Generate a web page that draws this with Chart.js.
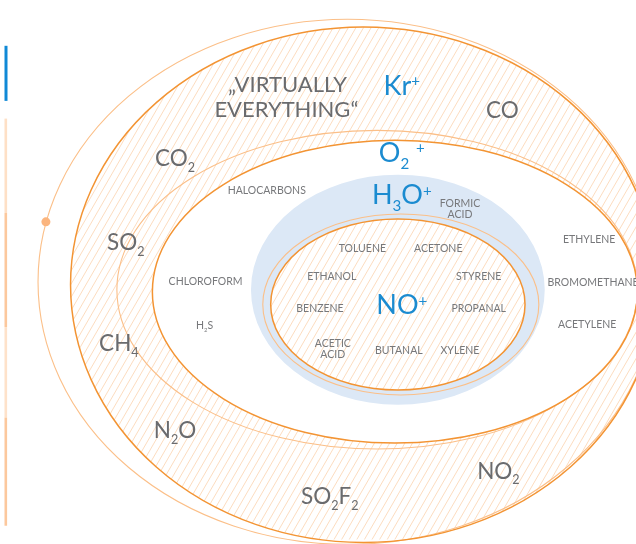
<!DOCTYPE html>
<html>
<head>
<meta charset="utf-8">
<script src="https://cdn.jsdelivr.net/npm/chart.js@4.4.1/dist/chart.umd.min.js"></script>
<style>
  html, body { margin: 0; padding: 0; background: #fff; }
  canvas { display: block; }
</style>
</head>
<body>
<canvas id="myChart" width="636" height="544"></canvas>
<script>
// ellipse outlines, in picture units (x to the right, y downwards)
const ringNames = ['outer halo', 'all gases', 'voc halo', 'voc zone', 'no halo', 'no zone'];
const ringCx = [348, 364, 378, 396, 402, 399];
const ringCy = [282, 285, 290, 292, 305, 305];
const ringRx = [314, 297, 264, 246, 140, 129];
const ringRy = [267, 262, 162, 154, 92, 87];

// the blue H3O+ area
const blueCx = [399];
const blueCy = [290];
const blueRx = [149];
const blueRy = [117];

// little marker dot on the outer halo
const markerX = [42];
const markerY = [221];

// strips on the left edge (top / bottom)
const stripTop = [42, 116, 212, 328, 420];
const stripBottom = [98, 212, 328, 420, 530];

// text: "_" = subscript next char, "^" = superscript next char
const headline = ['\u201EVIRTUALLY', 'EVERYTHING\u201C'];
const headlineX = [287, 286];
const headlineY = [89, 114];

const gasLabels = ['CO', 'CO_2', 'SO_2', 'CH_4', 'N_2O', 'SO_2F_2', 'NO_2'];
const gasX = [505, 173, 123, 116, 173, 330, 501];
const gasY = [115, 164, 250, 352, 441, 508, 482];

const ionLabels = ['Kr^+', 'O_2 ^+', 'H_3O^+', 'NO^+'];
const ionX = [403, 403, 403, 403];
const ionY = [92, 160, 203, 315];

const compoundLabels = ['HALOCARBONS', 'FORMIC\nACID', 'ETHYLENE', 'TOLUENE', 'ACETONE',
  'CHLOROFORM', 'H_2S', 'ETHANOL', 'STYRENE', 'BENZENE', 'PROPANAL',
  'ACETIC\nACID', 'BUTANAL', 'XYLENE', 'BROMOMETHANE', 'ACETYLENE'];
const compoundX = [266, 462, 593, 363, 440, 204, 203, 332, 481, 320, 481, 333, 400, 462, 597, 591];
const compoundY = [193, 206, 243, 252, 252, 285, 330, 280, 280, 313, 313, 348, 355, 355, 286, 329];

const ORANGE = '#f39433';
const ORANGE_LIGHT = '#fbbf88';
const HATCH = '#fcd8b8';
const BLUE_FILL = '#dce8f6';
const TEXT_GREY = '#6a6b6e';
const TEXT_BLUE = '#1b8bd0';
const FONT = 'Lato, "Open Sans", sans-serif';

const heavyRings = ['all gases', 'voc zone', 'no zone'];
const stripColours = ['#1089d6', '#fee0c6', '#fcc89d', '#fee2ca', '#fcc89d'];

function drawRich(ctx, str, cx, baseY, size, weight, colour) {
  const runs = [];
  for (let i = 0; i < str.length; i++) {
    const c = str[i];
    if ((c === '_' || c === '^') && i + 1 < str.length) {
      runs.push({ t: str[i + 1], k: c });
      i++;
    } else if (runs.length && runs[runs.length - 1].k === '') {
      runs[runs.length - 1].t += c;
    } else {
      runs.push({ t: c, k: '' });
    }
  }
  let total = 0;
  runs.forEach(r => {
    r.s = r.k ? size * 0.56 : size;
    ctx.font = `${weight} ${r.s}px ${FONT}`;
    r.w = ctx.measureText(r.t).width;
    total += r.w;
  });
  let x = cx - total / 2;
  ctx.fillStyle = colour;
  ctx.textAlign = 'left';
  ctx.textBaseline = 'alphabetic';
  runs.forEach(r => {
    ctx.font = `${weight} ${r.s}px ${FONT}`;
    let y = baseY;
    if (r.k === '_') y += size * 0.26;
    if (r.k === '^') y -= size * 0.32;
    ctx.fillText(r.t, x, y);
    x += r.w;
  });
}

const diagramPlugin = {
  id: 'diagram',
  beforeDatasetsDraw(chart) {
    const { ctx, chartArea, scales: { x, y } } = chart;
    const px = v => x.getPixelForValue(v);
    const py = v => y.getPixelForValue(v);

    function ellipsePath(cx, cy, rx, ry) {
      const X = px(cx), Y = py(cy);
      const RX = Math.abs(px(cx + rx) - X), RY = Math.abs(py(cy + ry) - Y);
      ctx.moveTo(X + RX, Y);
      ctx.ellipse(X, Y, RX, RY, 0, 0, Math.PI * 2);
    }
    const ring = i => ellipsePath(ringCx[i], ringCy[i], ringRx[i], ringRy[i]);

    function hatch() {
      const h = chartArea.bottom - chartArea.top;
      const run = h / Math.tan(60 * Math.PI / 180);
      ctx.strokeStyle = HATCH;
      ctx.lineWidth = 0.9;
      ctx.beginPath();
      for (let k = chartArea.left - run; k < chartArea.right + run; k += 7.6) {
        ctx.moveTo(k, chartArea.bottom);
        ctx.lineTo(k + run, chartArea.top);
      }
      ctx.stroke();
    }

    ctx.save();
    // hatched band between "all gases" and "voc zone"
    ctx.save();
    ctx.beginPath();
    ring(1);
    ring(3);
    ctx.clip('evenodd');
    hatch();
    ctx.restore();

    // blue H3O+ area
    ctx.beginPath();
    ellipsePath(blueCx[0], blueCy[0], blueRx[0], blueRy[0]);
    ctx.fillStyle = BLUE_FILL;
    ctx.fill();

    // NO+ zone: white with hatching
    ctx.beginPath();
    ring(5);
    ctx.fillStyle = '#fff';
    ctx.fill();
    ctx.save();
    ctx.clip();
    hatch();
    ctx.restore();

    // outlines
    ringNames.forEach((name, i) => {
      const heavy = heavyRings.includes(name);
      ctx.beginPath();
      ring(i);
      ctx.strokeStyle = heavy ? ORANGE : ORANGE_LIGHT;
      ctx.lineWidth = heavy ? 1.5 : 1.1;
      ctx.stroke();
    });

    // left edge strips
    stripTop.forEach((t, i) => {
      ctx.fillStyle = stripColours[i];
      ctx.fillRect(px(0), py(t), i === 0 ? 3 : 2.6, py(stripBottom[i]) - py(t));
    });
    ctx.restore();
  },
  afterDatasetsDraw(chart) {
    const { ctx, scales: { x, y } } = chart;
    const px = v => x.getPixelForValue(v);
    const py = v => y.getPixelForValue(v);
    ctx.save();
    headline.forEach((t, i) => drawRich(ctx, t, px(headlineX[i]), py(headlineY[i]), 22, 400, TEXT_GREY));
    gasLabels.forEach((t, i) => drawRich(ctx, t, px(gasX[i]), py(gasY[i]), 22.5, 400, TEXT_GREY));
    ionLabels.forEach((t, i) => drawRich(ctx, t, px(ionX[i]), py(ionY[i]), 27, 400, TEXT_BLUE));
    compoundLabels.forEach((t, i) => {
      t.split('\n').forEach((line, j) => {
        drawRich(ctx, line, px(compoundX[i]), py(compoundY[i] + j * 11), 10.5, 400, '#77787b');
      });
    });
    ctx.restore();
  }
};

const ctx = document.getElementById('myChart');
const myChart = new Chart(ctx, {
  type: 'scatter',
  data: {
    datasets: [{
      label: 'marker',
      data: markerX.map((v, i) => ({ x: v, y: markerY[i] })),
      pointRadius: 4.5,
      pointHoverRadius: 4.5,
      backgroundColor: '#fbb57e',
      borderWidth: 0
    }]
  },
  options: {
    responsive: false,
    devicePixelRatio: 1,
    animation: false,
    layout: { padding: 0 },
    scales: {
      x: { type: 'linear', min: 0, max: 636, display: false },
      y: { type: 'linear', min: 0, max: 544, reverse: true, display: false }
    },
    plugins: {
      legend: { display: false },
      tooltip: { enabled: false }
    }
  },
  plugins: [diagramPlugin]
});
</script>
</body>
</html>
